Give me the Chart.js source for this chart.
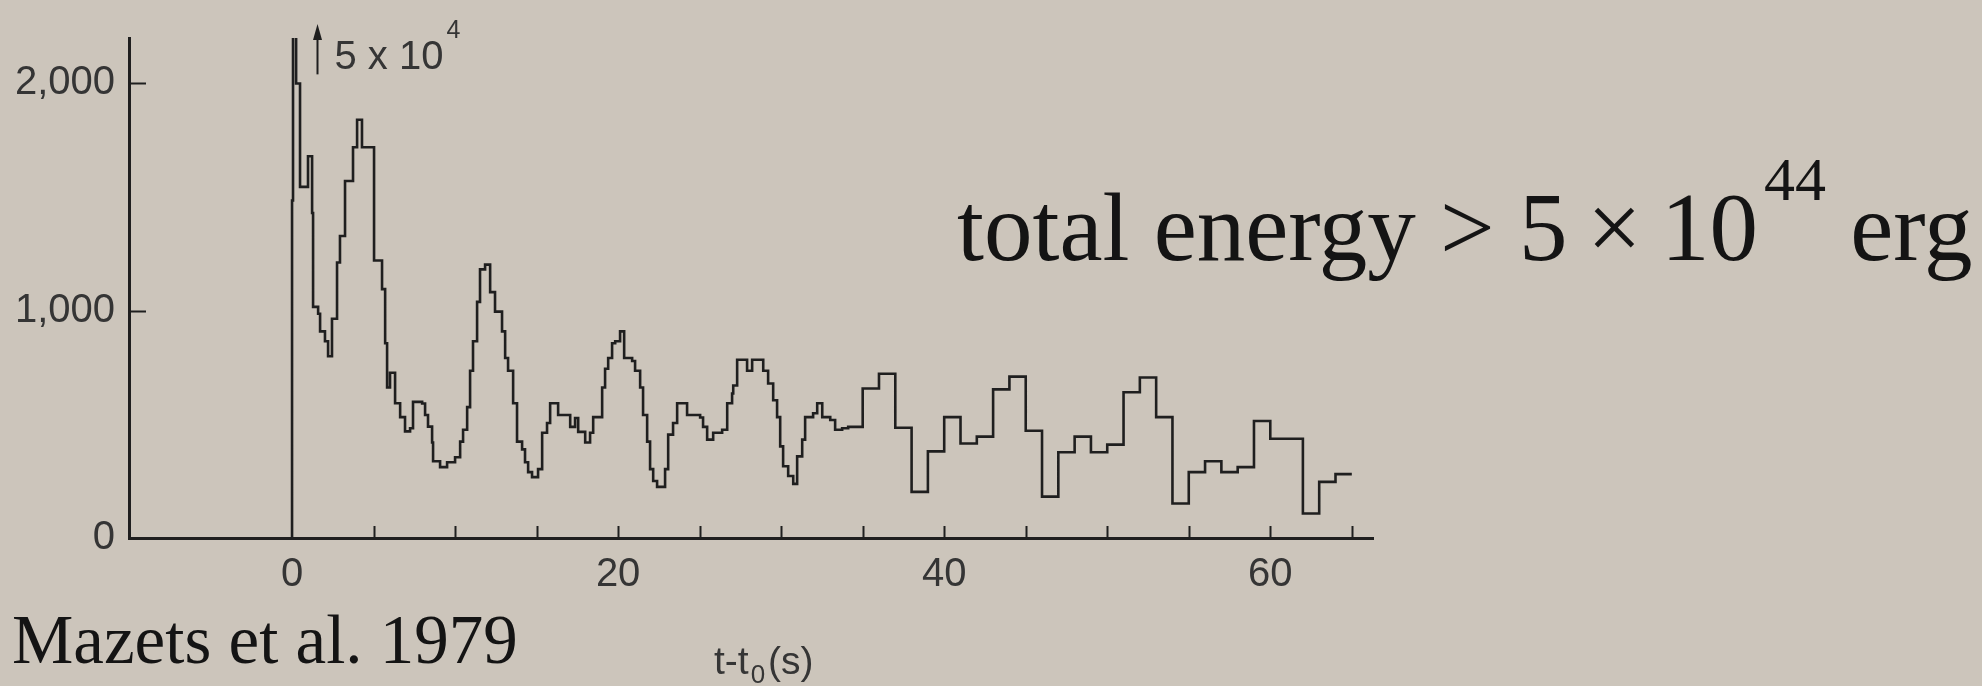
<!DOCTYPE html>
<html>
<head>
<meta charset="utf-8">
<title>Mazets et al. 1979</title>
<script src="https://cdn.jsdelivr.net/npm/chart.js@4/dist/chart.umd.min.js"></script>
<style>
	html, body { margin:0; padding:0; background:#ccc5bb; }
	#wrap { width:1982px; height:686px; }
</style>
</head>
<body>
<div id="wrap"><canvas id="burst" width="1982" height="686"></canvas></div>
<script>
(function(){
	// left edge of each bin (s after t0)
	const binStart = [
		0, 0.06, 0.25, 0.49, 0.98, 1.23, 1.29, 1.60, 1.72, 2.02,
		2.21, 2.45, 2.76, 2.94, 3.25, 3.74, 3.99, 4.29, 5.03, 5.52,
		5.71, 5.83, 6.01, 6.32, 6.63, 6.93, 7.24, 7.42, 7.98, 8.16,
		8.34, 8.59, 8.65, 9.08, 9.51, 10.0, 10.31, 10.49, 10.74, 10.92,
		11.10, 11.35, 11.53, 11.84, 12.15, 12.45, 12.88, 13.07, 13.25, 13.56,
		13.80, 14.11, 14.29, 14.48, 14.72, 15.09, 15.34, 15.64, 15.83, 16.32,
		17.06, 17.36, 17.55, 17.98, 18.28, 18.47, 19.02, 19.20, 19.39, 19.63,
		19.82, 20.12, 20.37, 20.86, 21.04, 21.35, 21.53, 21.78, 21.96, 22.15,
		22.39, 22.88, 23.07, 23.37, 23.62, 24.23, 25.03, 25.21, 25.46, 25.83,
		26.38, 26.69, 26.99, 27.06, 27.30, 27.91, 28.22, 28.90, 29.20, 29.51,
		29.75, 29.94, 30.12, 30.43, 30.74, 30.98, 31.29, 31.47, 31.96, 32.21,
		32.52, 33.01, 33.31, 33.74, 34.11,
		35, 36, 37, 38, 39, 40, 41, 42, 43, 44,
		45, 46, 47, 48, 49, 50, 51, 52, 53, 54,
		55, 56, 57, 58, 59, 60, 61, 62, 63, 64
	];
	// counts in each bin (the 0.06 s spike is off scale, ~5 x 10^4)
	const counts = [
		1485, 50000, 2000, 1545, 1680, 1430, 1017, 987, 909, 866,
		800, 965, 1212, 1329, 1571, 1719, 1840, 1719, 1221, 1095,
		857, 662, 727, 593, 532, 469, 483, 599, 592, 541,
		490, 420, 338, 312, 333, 355, 424, 476, 576, 736,
		866, 1039, 1182, 1203, 1082, 996, 909, 792, 736, 593,
		424, 390, 333, 290, 268, 303, 463, 506, 593, 541,
		489, 528, 467, 420, 463, 532, 662, 745, 792, 857,
		866, 909, 792, 779, 736, 662, 541, 424, 303, 251,
		225, 303, 455, 506, 593, 541, 530, 489, 433, 463,
		476, 593, 636, 671, 784, 736, 784, 736, 680, 606,
		532, 403, 316, 273, 238, 359, 433, 532, 549, 593,
		532, 519, 476, 483, 489,
		658, 723, 485, 203, 381, 532, 416, 446, 654, 710,
		472, 182, 377, 446, 377, 411, 641, 706, 532, 152,
		290, 338, 290, 312, 515, 437, 437, 108, 247, 281
	];
	const lastEdge = 65;

	const xTickLabels = [0, 20, 40, 60];
	const xTickMarks = [5, 10, 15, 20, 25, 30, 35, 40, 45, 50, 55, 60, 65];
	const yTickLabels = [0, 1000, 2000];

	const INK = '#1f1f1f';
	const LABEL = '#353535';
	const SANS = '"Liberation Sans", Arial, sans-serif';
	const SERIF = '"Liberation Serif", "Times New Roman", serif';

	// step outline: start on the axis, one point per bin left edge, close at the last edge
	const points = [{x: binStart[0], y: 0}];
	binStart.forEach((t, i) => points.push({x: t, y: counts[i]}));
	points.push({x: lastEdge, y: counts[counts.length - 1]});

	const decorations = {
		id: 'decorations',
		afterDraw(chart){
			const ctx = chart.ctx;
			const xs = chart.scales.x, ys = chart.scales.y;
			const area = chart.chartArea;
			ctx.save();

			// inward tick marks
			ctx.strokeStyle = INK;
			ctx.lineWidth = 2;
			xTickMarks.forEach(v => {
				const px = Math.round(xs.getPixelForValue(v)) + 0.5;
				ctx.beginPath(); ctx.moveTo(px, area.bottom); ctx.lineTo(px, area.bottom - 12); ctx.stroke();
			});
			yTickLabels.slice(1).forEach(v => {
				const py = Math.round(ys.getPixelForValue(v)) + 0.5;
				ctx.beginPath(); ctx.moveTo(area.left, py); ctx.lineTo(area.left + 17, py); ctx.stroke();
			});

			// off-scale marker: arrow + "5 x 10^4"
			const ax = Math.round(xs.getPixelForValue(1.55)) + 0.5;
			const ayBottom = ys.getPixelForValue(2040);
			const ayTip = area.top - 14;
			ctx.lineWidth = 2;
			ctx.beginPath(); ctx.moveTo(ax, ayBottom); ctx.lineTo(ax, ayTip + 10); ctx.stroke();
			ctx.fillStyle = INK;
			ctx.beginPath(); ctx.moveTo(ax, ayTip); ctx.lineTo(ax - 4.5, ayTip + 16); ctx.lineTo(ax + 4.5, ayTip + 16); ctx.closePath(); ctx.fill();

			ctx.fillStyle = LABEL;
			ctx.textBaseline = 'alphabetic';
			ctx.textAlign = 'left';
			ctx.font = '40px ' + SANS;
			const nx = ax + 17, ny = area.top + 31;
			ctx.fillText('5 x 10', nx, ny);
			const nw = ctx.measureText('5 x 10').width;
			ctx.font = '25px ' + SANS;
			ctx.fillText('4', nx + nw + 3, ny - 31);

			// axis title t-t0(s)
			ctx.font = '39px ' + SANS;
			const tx = 714, ty = 674;
			ctx.fillText('t-t', tx, ty);
			let w = ctx.measureText('t-t').width;
			ctx.font = '26px ' + SANS;
			ctx.fillText('0', tx + w + 2, ty + 9);
			w += ctx.measureText('0').width + 5;
			ctx.font = '39px ' + SANS;
			ctx.fillText('(s)', tx + w, ty);

			// headline and reference
			ctx.fillStyle = '#141414';
			ctx.font = '97px ' + SERIF;
			const hx = 957, hy = 260;
			const head = 'total energy > 5\u2009\u00d7\u200910';
			ctx.fillText(head, hx, hy);
			let hw = ctx.measureText(head).width;
			ctx.font = '62px ' + SERIF;
			ctx.fillText('44', hx + hw + 6, hy - 60);
			hw += 6 + ctx.measureText('44').width;
			ctx.font = '97px ' + SERIF;
			ctx.fillText(' erg', hx + hw, hy);

			ctx.font = '69px ' + SERIF;
			ctx.fillText('Mazets et al. 1979', 12, 663);

			ctx.restore();
		}
	};

	new Chart(document.getElementById('burst'), {
		type: 'line',
		data: {
			datasets: [{
				label: 'counts',
				data: points,
				borderColor: INK,
				borderWidth: 2.6,
				stepped: 'before',
				pointRadius: 0,
				fill: false
			}]
		},
		options: {
			responsive: false,
			animation: false,
			events: [],
			layout: { padding: { top: 32, right: 609, left: 0, bottom: 0 } },
			plugins: { legend: { display: false }, tooltip: { enabled: false } },
			scales: {
				x: {
					type: 'linear',
					min: -10,
					max: 66.3,
					grid: { display: false, drawTicks: false },
					border: { color: INK, width: 3 },
					afterBuildTicks: s => { s.ticks = xTickLabels.map(v => ({value: v})); },
					afterFit: s => { s.height = 148; },
					ticks: { color: LABEL, font: { family: SANS, size: 40 }, padding: 13, maxRotation: 0, autoSkip: false }
				},
				y: {
					min: 0,
					max: 2200,
					grid: { display: false, drawTicks: false },
					border: { color: INK, width: 3 },
					afterBuildTicks: s => { s.ticks = yTickLabels.map(v => ({value: v})); },
					afterFit: s => { s.width = 129; },
					ticks: {
						color: LABEL,
						font: { family: SANS, size: 40 },
						padding: 14,
						callback: v => v.toLocaleString('en-US')
					}
				}
			}
		},
		plugins: [decorations]
	});
})();
</script>
</body>
</html>
